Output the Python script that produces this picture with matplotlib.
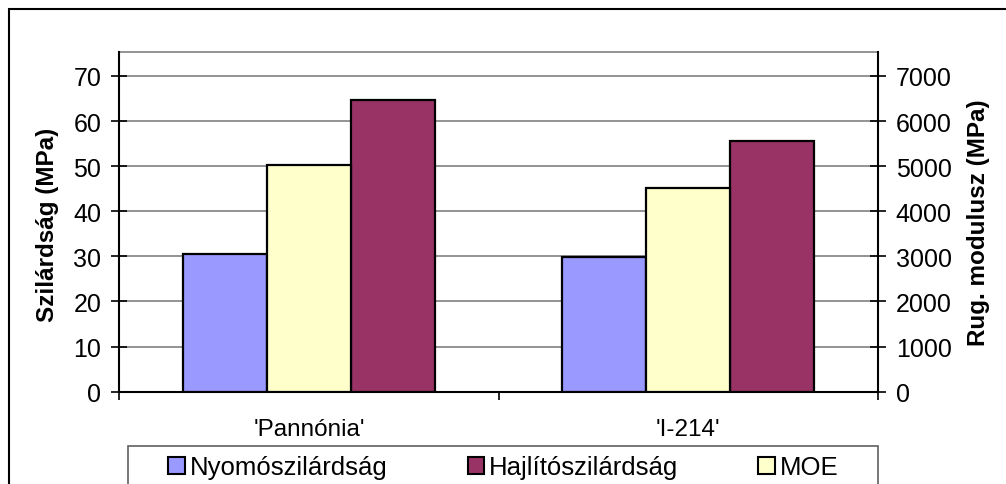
import matplotlib.pyplot as plt
import numpy as np
from matplotlib.patches import Patch, Rectangle

plt.rcParams['font.family'] = ['Liberation Sans', 'DejaVu Sans']

# data
categories = ["'Pannónia'", "'I-214'"]
nyomo = [30.6, 29.8]        # Nyomószilárdság (MPa), left axis
hajlito = [64.6, 55.6]      # Hajlítószilárdság (MPa), left axis
moe = [5020, 4520]          # MOE (MPa), right axis
left_ticks = [0, 10, 20, 30, 40, 50, 60, 70]
right_ticks = [0, 1000, 2000, 3000, 4000, 5000, 6000, 7000]

W, H = 1006, 485
fig = plt.figure(figsize=(W / 100, H / 100), dpi=100)
ax = fig.add_axes([119.3 / W, 1 - 392.7 / H, (877.7 - 119.3) / W, (392.7 - 53) / H])
ax2 = ax.twinx()

c_nyomo = '#9999FF'
c_hajl = '#993366'
c_moe = '#FFFFCC'

x = np.arange(len(categories))
w = 0.222
ax.bar(x - w, nyomo, w, color=c_nyomo, edgecolor='black', linewidth=1.6, zorder=3)
ax.bar(x + w, hajlito, w, color=c_hajl, edgecolor='black', linewidth=1.6, zorder=3)
ax2.bar(x, moe, w, color=c_moe, edgecolor='black', linewidth=1.6, zorder=3)

ax.set_xlim(-0.5, len(categories) - 0.5)
ax.set_ylim(0, 75.3)
ax2.set_ylim(0, 7530)
ax.set_yticks(left_ticks)
ax2.set_yticks(right_ticks)
ax.set_axisbelow(True)
ax.yaxis.grid(True, color='#808080', linewidth=1.2)

ax.set_xticks(x)
ax.set_xticklabels(categories)
ax.set_xticks(np.arange(len(categories) + 1) - 0.5, minor=True)
ax.tick_params(axis='x', which='major', length=0, pad=19, labelsize=17.5)
ax.tick_params(axis='x', which='minor', length=8 * 0.72, width=1.2, direction='out')
ax.tick_params(axis='y', direction='inout', length=11, width=1.2, pad=7.5, labelsize=18)
ax2.tick_params(axis='y', direction='inout', length=11, width=1.2, pad=7.5, labelsize=18)

for s in ['top', 'right']:
    ax.spines[s].set_visible(False)
ax.spines['left'].set_linewidth(1.5)
ax.spines['bottom'].set_linewidth(1.5)
for s in ['top', 'left', 'bottom']:
    ax2.spines[s].set_visible(False)
ax2.spines['right'].set_linewidth(1.5)
ax.plot([0, 1], [1, 1], transform=ax.transAxes, color='#808080', linewidth=1.2, clip_on=False)

fig.text(48 / W, 1 - 224.5 / H, 'Szilárdság (MPa)', rotation=90, ha='center', va='center',
         fontsize=17.5, fontweight='bold')
fig.text(978 / W, 1 - 222.5 / H, 'Rug. modulusz (MPa)', rotation=90, ha='center', va='center',
         fontsize=17.5, fontweight='bold')

handles = [Patch(facecolor=c_nyomo, edgecolor='black', linewidth=1.5),
           Patch(facecolor=c_hajl, edgecolor='black', linewidth=1.5),
           Patch(facecolor=c_moe, edgecolor='black', linewidth=1.5)]
labels = ['Nyomószilárdság', 'Hajlítószilárdság', 'MOE']
fig.legend(handles, labels, ncol=3, loc='center', bbox_to_anchor=(503.5 / W, 1 - 468.5 / H),
           frameon=False, fontsize=18.5, handlelength=0.65, handleheight=0.65,
           handletextpad=0.2, columnspacing=3.1)

# legend frame and outer chart border (both cut off by the image edge)
fig.add_artist(Rectangle((128 / W, -0.05), (877.7 - 128) / W, 0.05 + 1 - 447 / H,
                         transform=fig.transFigure, fill=False, edgecolor='#606060', linewidth=1.2))
fig.add_artist(Rectangle((8.5 / W, -0.1), 1.2, 0.1 + 1 - 10 / H,
                         transform=fig.transFigure, fill=False, edgecolor='black', linewidth=1.5))

fig.savefig('out.png', dpi=100)
